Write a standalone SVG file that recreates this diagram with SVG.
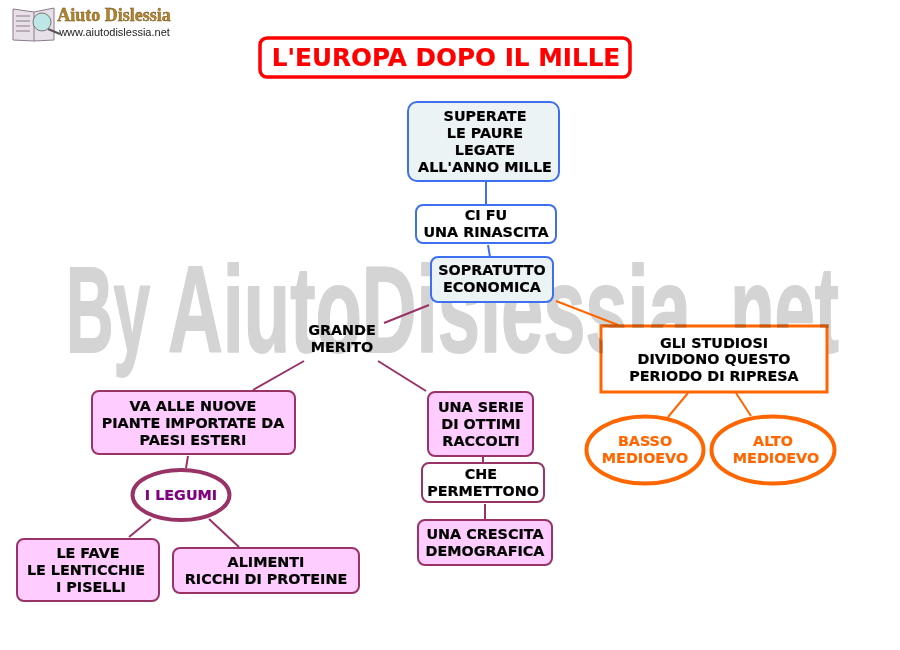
<svg xmlns="http://www.w3.org/2000/svg" width="900" height="650" viewBox="0 0 900 650">
<defs>
<filter id="soft" x="-5%" y="-5%" width="110%" height="110%"><feGaussianBlur stdDeviation="0.45"/></filter>
<clipPath id="over"><rect x="599" y="324" width="230" height="4"/><rect x="599" y="324" width="4" height="35"/></clipPath>
</defs>
<style>
text{font-family:"DejaVu Sans",Verdana,sans-serif;font-weight:700;font-size:14.35px;text-anchor:middle;fill:#000;stroke:#000;stroke-width:.2}
text.wm{font-family:"Liberation Sans",sans-serif;font-size:122px;text-anchor:start;fill:#d4d4d4;stroke:#d4d4d4;stroke-width:1.8;stroke-linejoin:round}
.b{fill:#fff;stroke:#3d6ff0;stroke-width:2}
.bf{fill:#ebf3f5;stroke:#3d6ff0;stroke-width:2}
.p{fill:#ffccff;stroke:#993366;stroke-width:2}
.o{fill:#fff;stroke:#ff6600;stroke-width:4}
.c{fill:none;stroke-width:2}
.cb{stroke:#3d6ff0}.cp{stroke:#993366}.co{stroke:#ff6600}
text.or{fill:#ff6600;stroke:#ff6600}
</style>
<rect width="900" height="650" fill="#fff"/>
<g id="watermark">
<text class="wm" transform="translate(66,352) scale(.54,1)">By</text>
<text class="wm" transform="translate(168,352) scale(.622,1)">AiutoDislessia</text>
<text class="wm" transform="translate(710,352) scale(.595,1)">.net</text>
</g>
<g id="logo" filter="url(#soft)">
<path d="M13 9L34 12L54 8V40L34 41L13 40Z" fill="#e8e0e8" stroke="#8a7a8a"/>
<path d="M34 12V41M16 16H30M16 21H30M16 26H30M16 31H30" stroke="#8a7a8a"/>
<circle cx="42" cy="22" r="9" fill="#bfe6e6" stroke="#777"/>
<path d="M48 29L60 34" stroke="#555" stroke-width="2"/>
<text x="114" y="21" style="font-family:'Liberation Serif',serif;font-size:18px;fill:#b5842a;stroke:#6a5020;stroke-width:.4">Aiuto Dislessia</text>
<text x="114.500" y="36" style="font-family:'Liberation Sans',sans-serif;font-size:11px;font-weight:400;fill:#222;stroke:none">www.aiutodislessia.net</text>
</g>
<g id="connectors">
<path class="c cb" d="M486 182V205"/><path class="c cb" d="M488 245L490 257"/>
<path class="c cp" d="M429 305L384 323"/><path class="c cp" d="M304 361L253 390"/><path class="c cp" d="M378 361L426 391"/>
<path class="c cp" d="M188 456L186 468"/><path class="c cp" d="M151 519L129 537"/><path class="c cp" d="M209 519L239 547"/>
<path class="c cp" d="M483 456V463"/><path class="c cp" d="M485 504V520"/>
<path class="c co" d="M556 301L618 325"/><path class="c co" d="M688 393L668 417"/><path class="c co" d="M736 393L751 416"/>
</g>
<g id="title"><rect x="260" y="38" width="370" height="39" rx="7" fill="#fff" stroke="#ff0000" stroke-width="3.500"/><text x="446" y="66" style="font-size:24.7px;fill:#ff0000;stroke:#ff0000">L'EUROPA DOPO IL MILLE</text></g>
<g id="n1"><rect class="bf" x="408" y="102" width="151" height="79" rx="9"/><text x="485" y="121">SUPERATE</text><text x="485" y="138">LE PAURE</text><text x="485" y="155">LEGATE</text><text x="485" y="172">ALL'ANNO MILLE</text></g>
<g id="n2"><rect class="b" x="416" y="205" width="140" height="38" rx="7"/><text x="486" y="220">CI FU</text><text x="486" y="237">UNA RINASCITA</text></g>
<g id="n3"><rect class="bf" x="431" y="257" width="122" height="45" rx="7"/><text x="492" y="275">SOPRATUTTO</text><text x="492" y="292">ECONOMICA</text></g>
<g id="n4"><text x="342" y="335">GRANDE</text><text x="342" y="352">MERITO</text></g>
<g id="n5"><rect class="p" x="92" y="391" width="203" height="63" rx="7"/><text x="193" y="411">VA ALLE NUOVE</text><text x="193" y="428">PIANTE IMPORTATE DA</text><text x="193" y="445">PAESI ESTERI</text></g>
<g id="n6"><ellipse cx="181" cy="495" rx="48.500" ry="25" fill="#fff" stroke="#993366" stroke-width="4"/><text x="181" y="500" style="fill:#800080;stroke:#800080">I LEGUMI</text></g>
<g id="n7"><rect class="p" x="17" y="539" width="142" height="62" rx="7"/><text x="88" y="558">LE FAVE</text><text x="86" y="575">LE LENTICCHIE</text><text x="91" y="592">I PISELLI</text></g>
<g id="n8"><rect class="p" x="173" y="548" width="186" height="45" rx="7"/><text x="266" y="567">ALIMENTI</text><text x="266" y="584">RICCHI DI PROTEINE</text></g>
<g id="n9"><rect class="p" x="428" y="392" width="105" height="64" rx="7"/><text x="481" y="412">UNA SERIE</text><text x="481" y="429">DI OTTIMI</text><text x="481" y="446">RACCOLTI</text></g>
<g id="n10"><rect x="422" y="463" width="122" height="39" rx="7" fill="#fff" stroke="#993366" stroke-width="2"/><text x="481" y="479">CHE</text><text x="483" y="496">PERMETTONO</text></g>
<g id="n11"><rect class="p" x="418" y="520" width="134" height="45" rx="7"/><text x="485" y="539">UNA CRESCITA</text><text x="485" y="556">DEMOGRAFICA</text></g>
<g id="n12"><rect x="601" y="326" width="226" height="66" fill="#fff" stroke="#ff6600" stroke-width="3"/><text x="714" y="348">GLI STUDIOSI</text><text x="714" y="364">DIVIDONO QUESTO</text><text x="714" y="381">PERIODO DI RIPRESA</text></g>
<g id="n13"><ellipse class="o" cx="645" cy="450" rx="58.500" ry="33.500"/><text class="or" x="645" y="446">BASSO</text><text class="or" x="645" y="463">MEDIOEVO</text></g>
<g id="n14"><ellipse class="o" cx="773" cy="450" rx="61.500" ry="33.500"/><text class="or" x="773" y="446">ALTO</text><text class="or" x="776" y="463">MEDIOEVO</text></g>
<use href="#watermark" clip-path="url(#over)" style="mix-blend-mode:multiply"/>
</svg>
